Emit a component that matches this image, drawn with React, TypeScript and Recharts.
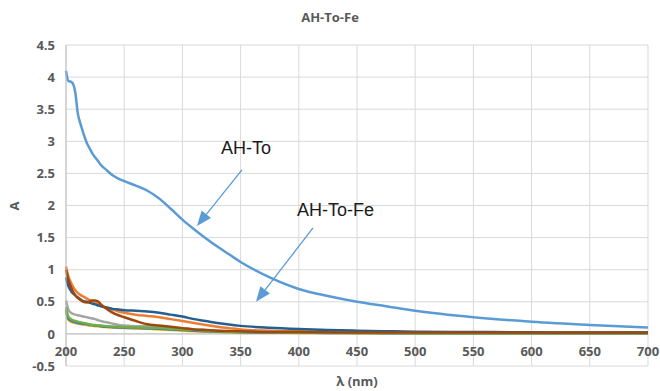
import React from 'react';
import { LineChart, Line, XAxis, YAxis, CartesianGrid, ReferenceLine, Customized } from 'recharts';

const wavelengths = [200, 202, 205, 208, 210, 213, 215, 218, 220, 223, 225, 228, 230, 235, 240, 245, 250, 260, 270, 280, 290, 300, 310, 320, 330, 340, 350, 375, 400, 425, 450, 475, 500, 550, 600, 650, 700];

const ahTo = [4.10, 3.94, 3.92, 3.76, 3.45, 3.24, 3.12, 2.97, 2.90, 2.80, 2.75, 2.68, 2.63, 2.55, 2.47, 2.42, 2.38, 2.31, 2.23, 2.11, 1.95, 1.78, 1.63, 1.49, 1.36, 1.24, 1.12, 0.88, 0.70, 0.59, 0.50, 0.43, 0.36, 0.26, 0.19, 0.14, 0.10];
const orangeS = [1.05, 0.90, 0.77, 0.68, 0.64, 0.60, 0.58, 0.55, 0.53, 0.51, 0.49, 0.46, 0.44, 0.41, 0.38, 0.35, 0.33, 0.30, 0.28, 0.26, 0.23, 0.20, 0.17, 0.14, 0.11, 0.09, 0.07, 0.05, 0.04, 0.03, 0.025, 0.02, 0.02, 0.015, 0.015, 0.01, 0.01];
const grayS = [0.52, 0.38, 0.32, 0.30, 0.29, 0.28, 0.27, 0.26, 0.25, 0.24, 0.23, 0.21, 0.20, 0.18, 0.16, 0.14, 0.13, 0.12, 0.12, 0.11, 0.10, 0.09, 0.07, 0.06, 0.05, 0.04, 0.035, 0.03, 0.025, 0.02, 0.02, 0.015, 0.015, 0.01, 0.01, 0.01, 0.01];
const yellowS = [0.35, 0.22, 0.18, 0.17, 0.16, 0.15, 0.145, 0.14, 0.13, 0.125, 0.12, 0.115, 0.11, 0.105, 0.10, 0.095, 0.09, 0.085, 0.08, 0.07, 0.06, 0.05, 0.04, 0.035, 0.03, 0.025, 0.02, 0.02, 0.015, 0.015, 0.01, 0.01, 0.01, 0.01, 0.01, 0.01, 0.01];
const midBlueS = [0.38, 0.24, 0.20, 0.18, 0.17, 0.16, 0.155, 0.15, 0.14, 0.135, 0.13, 0.125, 0.12, 0.11, 0.105, 0.10, 0.095, 0.09, 0.085, 0.08, 0.07, 0.06, 0.05, 0.04, 0.035, 0.03, 0.025, 0.02, 0.02, 0.015, 0.015, 0.01, 0.01, 0.01, 0.01, 0.01, 0.01];
const greenS = [0.42, 0.27, 0.22, 0.20, 0.19, 0.18, 0.17, 0.16, 0.15, 0.14, 0.14, 0.13, 0.13, 0.12, 0.115, 0.11, 0.105, 0.10, 0.095, 0.09, 0.08, 0.07, 0.06, 0.05, 0.04, 0.035, 0.03, 0.025, 0.02, 0.02, 0.015, 0.015, 0.01, 0.01, 0.01, 0.01, 0.01];
const darkBlueS = [0.88, 0.75, 0.65, 0.60, 0.57, 0.53, 0.51, 0.50, 0.49, 0.47, 0.46, 0.44, 0.43, 0.41, 0.39, 0.38, 0.37, 0.36, 0.35, 0.33, 0.30, 0.27, 0.23, 0.20, 0.17, 0.145, 0.125, 0.095, 0.075, 0.06, 0.05, 0.042, 0.035, 0.03, 0.025, 0.02, 0.02];
const brownS = [1.00, 0.85, 0.70, 0.60, 0.56, 0.52, 0.50, 0.49, 0.50, 0.52, 0.52, 0.50, 0.46, 0.39, 0.33, 0.29, 0.26, 0.20, 0.15, 0.13, 0.11, 0.09, 0.07, 0.06, 0.05, 0.045, 0.04, 0.03, 0.03, 0.025, 0.02, 0.02, 0.02, 0.02, 0.02, 0.02, 0.02];

const xTicks = [200, 250, 300, 350, 400, 450, 500, 550, 600, 650, 700];
const yTicks = [-0.5, 0, 0.5, 1, 1.5, 2, 2.5, 3, 3.5, 4, 4.5];

const data = wavelengths.map((w, i) => ({
  w,
  ahTo: ahTo[i],
  orange: orangeS[i],
  gray: grayS[i],
  yellow: yellowS[i],
  midBlue: midBlueS[i],
  green: greenS[i],
  darkBlue: darkBlueS[i],
  brown: brownS[i],
}));

const series = [
  { key: 'ahTo', color: '#5B9BD5' },
  { key: 'orange', color: '#ED7D31' },
  { key: 'gray', color: '#A5A5A5' },
  { key: 'yellow', color: '#FFC000' },
  { key: 'midBlue', color: '#4472C4' },
  { key: 'green', color: '#70AD47' },
  { key: 'darkBlue', color: '#255E91' },
  { key: 'brown', color: '#9E480E' },
];

const AXIS_FONT = '"Open Sans", "DejaVu Sans", sans-serif';
const TEXT_COLOR = '#595959';

const makeArrow = (label: string, dx: number, dy: number) => (props: any) => {
  const { x1, y1, x2, y2 } = props;
  const ang = Math.atan2(y2 - y1, x2 - x1);
  const L = 15;
  const W = 6;
  const c = Math.cos(ang);
  const s = Math.sin(ang);
  const bx = x2 - L * c;
  const by = y2 - L * s;
  const p1 = `${x2},${y2}`;
  const p2 = `${bx - W * s},${by + W * c}`;
  const p3 = `${bx + W * s},${by - W * c}`;
  return (
    <g>
      <line x1={x1} y1={y1} x2={bx} y2={by} stroke="#5B9BD5" strokeWidth={1.3} />
      <polygon points={`${p1} ${p2} ${p3}`} fill="#5B9BD5" />
      <text x={x1 + dx} y={y1 + dy} fontFamily='"Liberation Sans", Arial, sans-serif' fontSize={18} fill="#1a1a1a">
        {label}
      </text>
    </g>
  );
};

const XTick = (props: any) => {
  const { x, y, payload } = props;
  return (
    <text x={x} y={y - 10} textAnchor="middle" fontFamily={AXIS_FONT} fontWeight="bold" fontSize={13} fill={TEXT_COLOR}>
      {payload.value}
    </text>
  );
};

const Labels = () => (
  <g>
    <text x={330} y={22} textAnchor="middle" fontFamily={AXIS_FONT} fontWeight="bold" fontSize={13} fill={TEXT_COLOR}>
      AH-To-Fe
    </text>
    <text x={16} y={206} textAnchor="middle" transform="rotate(-90 16 206)" dominantBaseline="middle" fontFamily={AXIS_FONT} fontWeight="bold" fontSize={13} fill={TEXT_COLOR}>
      A
    </text>
    <text x={357} y={386} textAnchor="middle" fontFamily={AXIS_FONT} fontWeight="bold" fontSize={13} fill={TEXT_COLOR}>
      λ (nm)
    </text>
  </g>
);

export default function App() {
  return (
    <div style={{ position: 'absolute', left: 0, top: 0, width: 660, height: 391, background: '#fff' }}>
      <LineChart width={660} height={391} data={data} margin={{ top: 45, right: 12, bottom: 0, left: 10 }}>
        <CartesianGrid stroke="#D9D9D9" strokeWidth={1} />
        <XAxis
          dataKey="w"
          type="number"
          domain={[200, 700]}
          ticks={xTicks}
          axisLine={false}
          tickLine={false}
          tickSize={0}
          tickMargin={0}
          height={25}
          tick={<XTick />}
          interval={0}
        />
        <YAxis
          type="number"
          domain={[-0.5, 4.5]}
          ticks={yTicks}
          width={56}
          axisLine={{ stroke: '#BFBFBF' }}
          tickLine={false}
          tickSize={0}
          tickMargin={11}
          interval={0}
          tick={{ fontFamily: AXIS_FONT, fontWeight: 'bold', fontSize: 13, fill: TEXT_COLOR }}
        />
        <ReferenceLine y={0} stroke="#BFBFBF" strokeWidth={1} />
        {series.map((s) => (
          <Line
            key={s.key}
            dataKey={s.key}
            type="monotone"
            stroke={s.color}
            strokeWidth={2.5}
            dot={false}
            isAnimationActive={false}
          />
        ))}
        <ReferenceLine
          segment={[{ x: 351.2, y: 2.555 }, { x: 312.5, y: 1.68 }]}
          shape={makeArrow('AH-To', -21, -16)}
        />
        <ReferenceLine
          segment={[{ x: 412.2, y: 1.65 }, { x: 363.2, y: 0.5 }]}
          shape={makeArrow('AH-To-Fe', -16, -12)}
        />
        <Customized component={Labels} />
      </LineChart>
    </div>
  );
}
